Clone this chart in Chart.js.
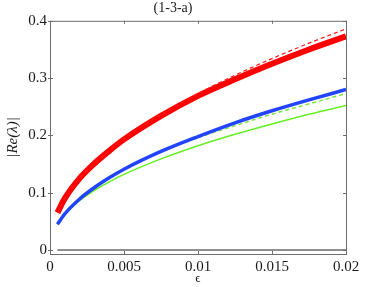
<!DOCTYPE html>
<html>
<head>
<meta charset="utf-8">
<script src="https://cdn.jsdelivr.net/npm/chart.js@4.4.0/dist/chart.umd.min.js"></script>
<style>
  body { margin: 0; background: #fff; }
  #wrap { width: 382px; height: 287px; }
</style>
</head>
<body>
<div id="wrap"><canvas id="plot" width="382" height="287"></canvas></div>
<script>
// values
const eps = [0.0005, 0.001, 0.002, 0.003, 0.004, 0.005, 0.0075, 0.01, 0.0125, 0.015, 0.0175, 0.02];
const redSolid = [0.065, 0.09, 0.125, 0.151, 0.173, 0.193, 0.234, 0.269, 0.298, 0.325, 0.35, 0.373];
const redDashed = [0.065, 0.09, 0.125, 0.151, 0.174, 0.195, 0.236, 0.273, 0.305, 0.334, 0.361, 0.386];
const blueSolid = [0.045, 0.063, 0.089, 0.109, 0.126, 0.141, 0.172, 0.198, 0.222, 0.243, 0.262, 0.28];
const greenDashed = [0.045, 0.063, 0.088, 0.108, 0.125, 0.14, 0.171, 0.196, 0.217, 0.237, 0.255, 0.273];
const greenSolid = [0.045, 0.062, 0.086, 0.104, 0.119, 0.132, 0.159, 0.182, 0.202, 0.22, 0.237, 0.252];
const zeroLine = [0, 0, 0, 0, 0, 0, 0, 0, 0, 0, 0, 0];

const xTicks = [0, 0.005, 0.01, 0.015, 0.02];
const xTickLabels = ['0', '0.005', '0.01', '0.015', '0.02'];
const yTicks = [0, 0.1, 0.2, 0.3, 0.4];
const yTickLabels = ['0', '0.1', '0.2', '0.3', '0.4'];

function pts(ys) {
    return eps.map((x, i) => ({x: x, y: ys[i]}));
}

function series(ys, color, width, dash, order) {
    return {
        data: pts(ys),
        borderColor: color,
        borderWidth: width,
        borderDash: dash,
        pointRadius: 0,
        cubicInterpolationMode: 'monotone',
        fill: false,
        order: order
    };
}

const AXIS = '#6e6e6e';
const TEXT = '#1a1a1a';
const FONT = "'Liberation Serif', 'DejaVu Serif', serif";

// box round the plot and small ticks pointing inward
const boxPlugin = {
    id: 'box',
    afterDatasetsDraw(chart) {
        const {ctx, chartArea: a, scales} = chart;
        ctx.save();
        ctx.strokeStyle = AXIS;
        ctx.lineWidth = 1;
        ctx.strokeRect(a.left + 0.5, a.top + 0.5, a.right - a.left, a.bottom - a.top);
        ctx.beginPath();
        for (const v of xTicks) {
            const px = Math.round(scales.x.getPixelForValue(v)) + 0.5;
            ctx.moveTo(px, a.bottom); ctx.lineTo(px, a.bottom - 3);
            ctx.moveTo(px, a.top); ctx.lineTo(px, a.top + 3);
        }
        for (const v of yTicks) {
            const py = Math.round(scales.y.getPixelForValue(v)) + 0.5;
            ctx.moveTo(a.left - 2, py); ctx.lineTo(a.left + 3, py);
            ctx.moveTo(a.right, py); ctx.lineTo(a.right - 3, py);
        }
        ctx.stroke();
        ctx.restore();
    }
};

new Chart(document.getElementById('plot').getContext('2d'), {
    type: 'line',
    data: {
        datasets: [
            series(redDashed, '#ff1a1a', 1.2, [4, 3], 0),
            series(redSolid, '#ff0000', 6, [], 1),
            series(blueSolid, '#2244ff', 3.5, [], 2),
            series(greenDashed, '#77e63a', 1.5, [4, 3], 3),
            series(greenSolid, '#66ee22', 1.5, [], 4),
            series(zeroLine, '#6a6a6a', 1.5, [], 5)
        ]
    },
    options: {
        responsive: false,
        animation: false,
        layout: { padding: { top: 0, right: 36, left: 0, bottom: 0 } },
        plugins: {
            legend: { display: false },
            tooltip: { enabled: false },
            title: {
                display: true,
                text: '(1-3-a)',
                color: TEXT,
                font: { family: FONT, size: 14, weight: 'normal', lineHeight: 1.2 },
                padding: { top: 0, bottom: 4 },
                position: 'top'
            }
        },
        scales: {
            x: {
                type: 'linear',
                min: 0,
                max: 0.02,
                afterBuildTicks: (s) => { s.ticks = xTicks.map(v => ({value: v})); },
                afterFit: (s) => { s.height = 33; },
                grid: { display: false, drawTicks: false },
                border: { display: false },
                ticks: {
                    color: TEXT,
                    font: { family: FONT, size: 15 },
                    padding: 4,
                    maxRotation: 0,
                    callback: (v) => xTickLabels[xTicks.indexOf(v)]
                },
                title: {
                    display: true,
                    text: 'ϵ',
                    color: TEXT,
                    font: { family: FONT, size: 13 },
                    padding: { top: 0, bottom: 1 }
                }
            },
            y: {
                type: 'linear',
                min: -0.007,
                max: 0.4,
                afterBuildTicks: (s) => { s.ticks = yTicks.map(v => ({value: v})); },
                afterFit: (s) => { s.width = 50; },
                grid: { display: false, drawTicks: false },
                border: { display: false },
                ticks: {
                    color: TEXT,
                    font: { family: FONT, size: 15 },
                    padding: 3,
                    callback: (v) => yTickLabels[yTicks.indexOf(v)]
                },
                title: {
                    display: true,
                    text: '|Re(λ)|',
                    color: TEXT,
                    font: { family: FONT, size: 15, style: 'italic' },
                    padding: { top: 4, bottom: 0 }
                }
            }
        }
    },
    plugins: [boxPlugin]
});
</script>
</body>
</html>
